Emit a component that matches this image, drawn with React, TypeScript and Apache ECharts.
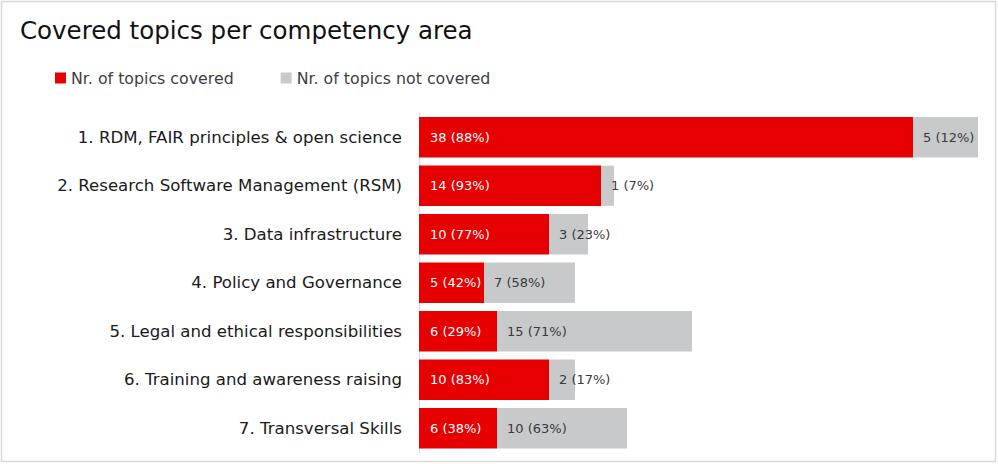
import React, { useEffect, useRef } from "react";
import * as echarts from "echarts";

const categories = [
  "1. RDM, FAIR principles & open science",
  "2. Research Software Management (RSM)",
  "3. Data infrastructure",
  "4. Policy and Governance",
  "5. Legal and ethical responsibilities",
  "6. Training and awareness raising",
  "7. Transversal Skills",
];
const covered = [38, 14, 10, 5, 6, 10, 6];
const notCovered = [5, 1, 3, 7, 15, 2, 10];
const seriesNames = ["Nr. of topics covered", "Nr. of topics not covered"];

const FONT = "'DejaVu Sans', 'Noto Sans', sans-serif";

function pctLabel(values: number[], other: number[]) {
  return (p: any) => {
    const i = p.dataIndex;
    const total = values[i] + other[i];
    return `${values[i]} (${Math.round((values[i] / total) * 100)}%)`;
  };
}

export default function App() {
  const ref = useRef<HTMLDivElement>(null);

  useEffect(() => {
    document.body.style.margin = "0";
    const chart = echarts.init(ref.current!, null, { renderer: "svg" });
    chart.setOption({
      animation: false,
      backgroundColor: "#ffffff",
      title: {
        text: "Covered topics per competency area",
        left: 15,
        top: 13,
        textStyle: { fontFamily: FONT, fontSize: 24.5, fontWeight: "normal", color: "#111111" },
      },
      legend: {
        left: 50,
        top: 65,
        itemWidth: 11,
        itemHeight: 11,
        itemGap: 47,
        icon: "rect",
        textStyle: { fontFamily: FONT, fontSize: 15.8, color: "#404040" },
        data: seriesNames,
      },
      graphic: [
        {
          type: "rect",
          shape: { x: 1.5, y: 1.5, width: 994, height: 460 },
          style: { fill: "none", stroke: "#d9d9d9", lineWidth: 1.5 },
          silent: true,
        },
      ],
      grid: { left: 419, top: 113, width: 559, height: 339.5 },
      xAxis: {
        type: "value",
        min: 0,
        max: 43,
        show: false,
      },
      yAxis: {
        type: "category",
        inverse: true,
        data: categories,
        axisLine: { show: true, lineStyle: { color: "#d9d9d9", width: 1 } },
        axisTick: { show: false },
        axisLabel: { fontFamily: FONT, fontSize: 16.6, color: "#1a1a1a", margin: 17 },
      },
      series: [
        {
          name: seriesNames[0],
          type: "bar",
          stack: "total",
          barCategoryGap: "17%",
          data: covered,
          itemStyle: { color: "#e60000" },
          label: {
            show: true,
            position: "insideLeft",
            distance: 11,
            color: "#ffffff",
            fontFamily: FONT,
            fontSize: 13,
            formatter: pctLabel(covered, notCovered),
          },
        },
        {
          name: seriesNames[1],
          type: "bar",
          stack: "total",
          barCategoryGap: "17%",
          data: notCovered,
          itemStyle: { color: "#c8c9cb" },
          label: {
            show: true,
            position: "insideLeft",
            distance: 10,
            color: "#3a3a3a",
            fontFamily: FONT,
            fontSize: 13,
            formatter: pctLabel(notCovered, covered),
          },
        },
      ],
    });
    return () => chart.dispose();
  }, []);

  return <div ref={ref} style={{ width: 998, height: 464 }} />;
}
